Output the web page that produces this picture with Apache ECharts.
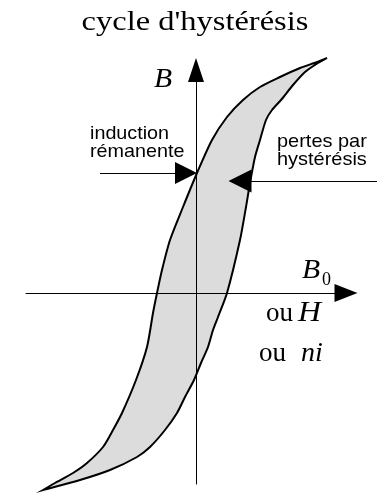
<!DOCTYPE html>
<html><head><meta charset="utf-8">
<script src="https://cdn.jsdelivr.net/npm/echarts@6/dist/echarts.min.js"></script>
<style>html,body{margin:0;padding:0;background:#fff}#c{width:377px;height:493px}</style>
</head><body><div id="c"></div>
<script>
// Hysteresis loop, arbitrary units (H horizontal, B vertical)
// Descending branch: from positive saturation down to negative saturation
const descH = [131,121,104,84,64,47,31,16,1,-13,-26,-34,-39,-43,-49,-60,-74,-83,-93,-109,-123,-141,-153];
const descB = [235,231,225,216,206,193,176,153,120,86,53,23,0,-20,-54,-87,-120,-137,-154,-170,-180,-190,-197];
// Ascending branch: from negative saturation back up to positive saturation
const ascH = [-153,-116,-86,-59,-46,-31,-19,-11,-2,5,12,17,22,31,44,50,54,59,64,70,76,85,97,109,122,131];
const ascB = [-197,-187,-177,-164,-154,-137,-120,-104,-87,-70,-54,-37,-24,0,53,86,110,136,153,173,183,193,208,221,230,235];
// Axis extents
const axisH = [-170, 150];
const axisB = [-191, 223];
// Annotation arrows (data units): start -> end
const remanenceArrow = [[-96, 120], [-10, 120]];
const lossArrow = [[185, 112], [44, 112]];
// Texts
const titleText = "cycle d'hystérésis";
const remanenceLabel = ["induction", "rémanente"];
const lossLabel = ["pertes par", "hystérésis"];

const loopPoints = descH.map((h, i) => [h, descB[i]]).concat(ascH.map((h, i) => [h, ascB[i]]));

const chart = echarts.init(document.getElementById('c'), null, {renderer: 'canvas'});
const serif = '"Liberation Serif", "Times New Roman", serif';
const sans = '"Liberation Sans", Arial, sans-serif';
function txt(x, y, text, size, family, opts) {
  opts = opts || {};
  return {
    type: 'text', x: x, y: y, scaleX: opts.sx || 1, silent: true, z: 10,
    style: {
      text: text, fontSize: size, fontFamily: family, fontStyle: opts.italic ? 'italic' : 'normal',
      fill: '#000', textAlign: opts.align || 'left', textVerticalAlign: 'middle'
    }
  };
}
const axisCommon = {
  type: 'value',
  axisTick: {show: false}, axisLabel: {show: false}, splitLine: {show: false}
};
function arrowSeries(coords, size) {
  return {
    type: 'lines', coordinateSystem: 'cartesian2d', clip: false, silent: true, z: 5,
    symbol: ['none', 'triangle'], symbolSize: size,
    lineStyle: {color: '#000', width: 1, opacity: 1, curveness: 0},
    data: [{coords: coords}]
  };
}
chart.setOption({
  animation: false,
  backgroundColor: '#fff',
  grid: {left: 26, right: 31, top: 70, bottom: 9, containLabel: false},
  xAxis: Object.assign({}, axisCommon, {
    min: axisH[0], max: axisH[1],
    axisLine: {onZero: true, lineStyle: {color: '#000', width: 1}, symbol: ['none', 'triangle'], symbolSize: [18, 23]}
  }),
  yAxis: Object.assign({}, axisCommon, {
    min: axisB[0], max: axisB[1],
    axisLine: {onZero: true, lineStyle: {color: '#000', width: 1}, symbol: ['none', 'triangle'], symbolSize: [16, 24]}
  }),
  series: [
    {
      type: 'custom', z: -1, clip: false, silent: true,
      data: loopPoints,
      encode: {x: 0, y: 1},
      renderItem: function (params, api) {
        if (params.dataIndex !== 0) return null;
        const pts = loopPoints.map(p => api.coord(p));
        let x0 = Infinity, y0 = Infinity, x1 = -Infinity, y1 = -Infinity;
        pts.forEach(p => { x0 = Math.min(x0, p[0]); y0 = Math.min(y0, p[1]); x1 = Math.max(x1, p[0]); y1 = Math.max(y1, p[1]); });
        return {type: 'polygon', shape: {points: pts, smooth: 0.25, smoothConstraint: [[x0, y0], [x1, y1]]},
                style: {fill: '#dcdcdc', stroke: '#000', lineWidth: 2}};
      }
    },
    arrowSeries(remanenceArrow, [15, 22]),
    arrowSeries(lossArrow, [14, 23])
  ],
  graphic: [
    txt(195, 23, titleText, 28, serif, {align: 'center', sx: 1.16}),
    txt(154, 80, 'B', 27, serif, {italic: true, sx: 1.1}),
    txt(302, 271, 'B', 27, serif, {italic: true, sx: 1.1}),
    txt(322, 280, '0', 18, serif, {}),
    txt(266, 314, 'ou', 27, serif, {}),
    txt(298, 313, 'H', 29, serif, {italic: true, sx: 1.1}),
    txt(259, 354, 'ou', 27, serif, {}),
    txt(301, 354, 'ni', 28, serif, {italic: true}),
    txt(90, 134, remanenceLabel[0], 19, sans, {sx: 1.04}),
    txt(90, 152, remanenceLabel[1], 19, sans, {sx: 1.04}),
    txt(277, 142, lossLabel[0], 19, sans, {sx: 1.05}),
    txt(277, 160, lossLabel[1], 19, sans, {sx: 1.05})
  ]
});
</script>
</body></html>
